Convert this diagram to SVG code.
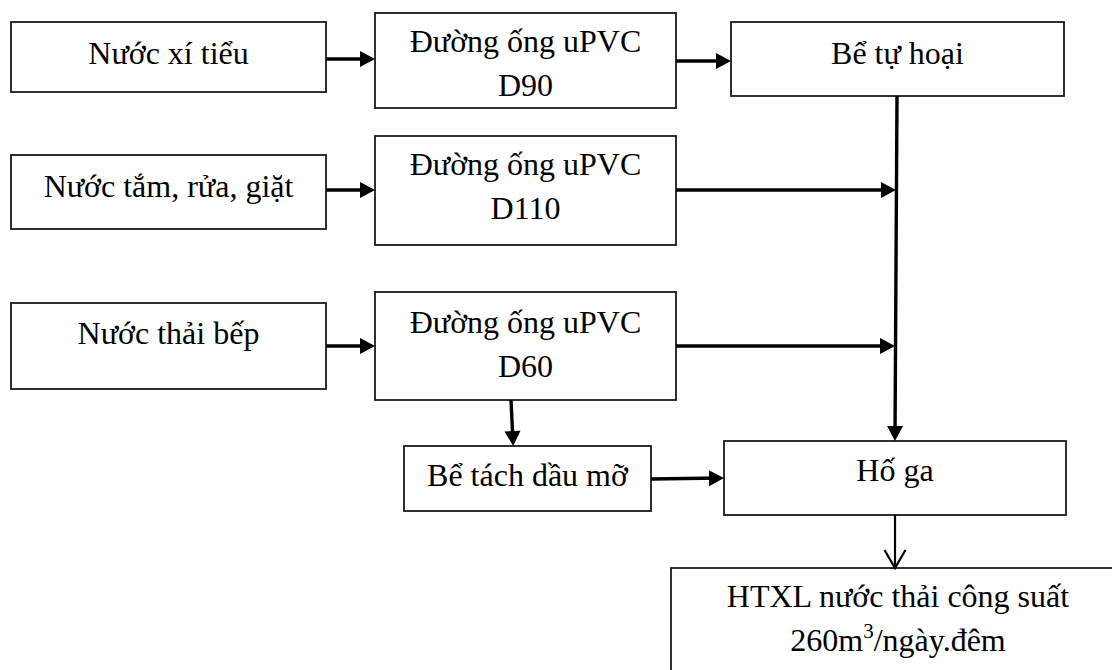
<svg xmlns="http://www.w3.org/2000/svg" width="1112" height="670" viewBox="0 0 1112 670">
  <style>
    .box { fill: #ffffff; stroke: #1a1a1a; stroke-width: 1.8; }
    .lbl { font-family: "Liberation Serif", "Times New Roman", serif; font-size: 32px; fill: #000; text-anchor: middle; }
    .sup { font-size: 21px; }
    .flow { fill: none; stroke: #000; stroke-width: 3.4; }
    .flow-thin { fill: none; stroke: #000; stroke-width: 2.2; }
  </style>
  <defs>
    <marker id="head" markerUnits="userSpaceOnUse" markerWidth="16" markerHeight="17" refX="11" refY="8" orient="auto" overflow="visible">
      <path d="M0,0 L15,8 L0,16 z" fill="#000"/>
    </marker>
    <marker id="vhead" markerUnits="userSpaceOnUse" markerWidth="22" markerHeight="24" refX="18" refY="10.5" orient="auto" overflow="visible">
      <path d="M0,0 L18,10.5 L0,21" fill="none" stroke="#000" stroke-width="2.2"/>
    </marker>
  </defs>
  <rect width="1112" height="670" fill="#ffffff"/>

  <!-- sources -->
  <g id="nuoc-xi-tieu">
    <rect class="box" x="11" y="22" width="315" height="70"/>
    <text class="lbl" x="168.5" y="64">Nước xí tiểu</text>
  </g>
  <g id="nuoc-tam-rua-giat">
    <rect class="box" x="11" y="155" width="315" height="74"/>
    <text class="lbl" x="168.5" y="197">Nước tắm, rửa, giặt</text>
  </g>
  <g id="nuoc-thai-bep">
    <rect class="box" x="11" y="303" width="315" height="86"/>
    <text class="lbl" x="168.5" y="344">Nước thải bếp</text>
  </g>

  <!-- pipes -->
  <g id="ong-d90">
    <rect class="box" x="375" y="13" width="301" height="95"/>
    <text class="lbl" x="525.5" y="52">Đường ống uPVC</text>
    <text class="lbl" x="525.5" y="96">D90</text>
  </g>
  <g id="ong-d110">
    <rect class="box" x="375" y="136" width="301" height="109"/>
    <text class="lbl" x="525.5" y="175">Đường ống uPVC</text>
    <text class="lbl" x="525.5" y="219">D110</text>
  </g>
  <g id="ong-d60">
    <rect class="box" x="375" y="292" width="301" height="108"/>
    <text class="lbl" x="525.5" y="333">Đường ống uPVC</text>
    <text class="lbl" x="525.5" y="377">D60</text>
  </g>

  <!-- treatment units -->
  <g id="be-tu-hoai">
    <rect class="box" x="731" y="22" width="333" height="74"/>
    <text class="lbl" x="897.5" y="64">Bể tự hoại</text>
  </g>
  <g id="be-tach-dau-mo">
    <rect class="box" x="404" y="446" width="247" height="65"/>
    <text class="lbl" x="527.5" y="486">Bể tách dầu mỡ</text>
  </g>
  <g id="ho-ga">
    <rect class="box" x="724" y="441" width="342" height="74"/>
    <text class="lbl" x="895" y="481">Hố ga</text>
  </g>
  <g id="htxl">
    <rect class="box" x="671" y="568" width="460" height="130"/>
    <text class="lbl" x="898" y="607">HTXL nước thải công suất</text>
    <text class="lbl" x="898" y="651">260m<tspan class="sup" dy="-13">3</tspan><tspan dy="13">/ngày.đêm</tspan></text>
  </g>

  <!-- connectors -->
  <g id="connectors">
    <path class="flow" d="M326,59 H371" marker-end="url(#head)"/>
    <path class="flow" d="M676,61 H727" marker-end="url(#head)"/>
    <path class="flow" d="M326,190 H371" marker-end="url(#head)"/>
    <path class="flow" d="M676,190 H892" marker-end="url(#head)"/>
    <path class="flow" d="M326,346 H371" marker-end="url(#head)"/>
    <path class="flow" d="M676,346 H891" marker-end="url(#head)"/>
    <path class="flow" d="M511,400 L513,442" marker-end="url(#head)"/>
    <path class="flow" d="M651,479 L720,478" marker-end="url(#head)"/>
    <path class="flow" d="M897,96 L895,437" marker-end="url(#head)"/>
    <path class="flow-thin" d="M895,515 V568" marker-end="url(#vhead)"/>
  </g>
</svg>
